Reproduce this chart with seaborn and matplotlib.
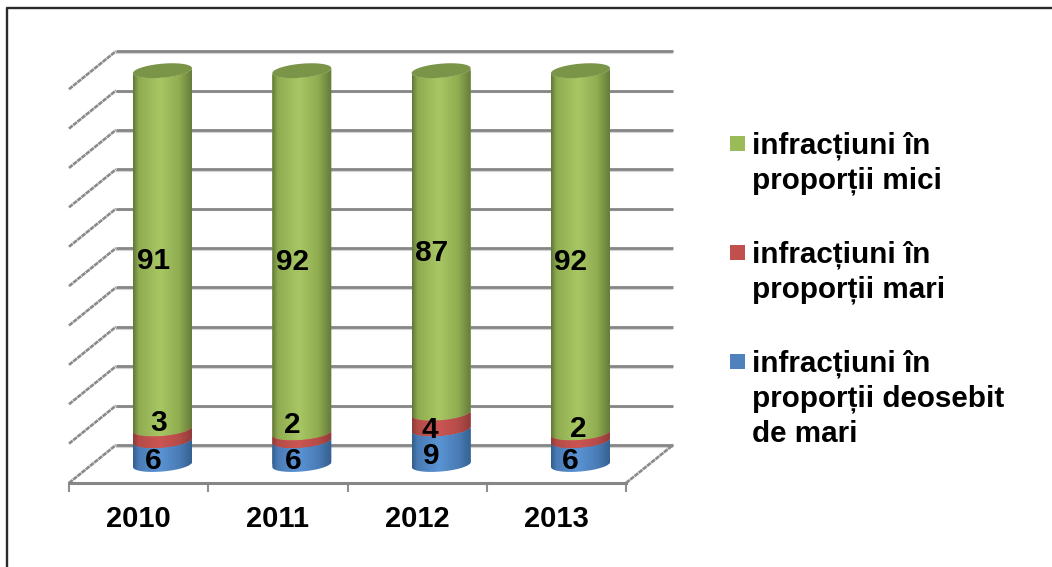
import numpy as np
import pandas as pd
import seaborn as sns
import matplotlib
matplotlib.use("Agg")
import matplotlib.pyplot as plt
from matplotlib.colors import LinearSegmentedColormap
from matplotlib.lines import Line2D
from matplotlib.patches import Rectangle
from matplotlib.path import Path

years = ["2010", "2011", "2012", "2013"]
mici = [91, 92, 87, 92]
mari = [3, 2, 4, 2]
deosebit = [6, 6, 9, 6]
legend_labels = ["infracțiuni în\nproporții mici",
                 "infracțiuni în\nproporții mari",
                 "infracțiuni în\nproporții deosebit\nde mari"]

W, H = 1052, 567
sns.set_theme(style="white")
plt.rcParams["font.family"] = ["Liberation Sans", "DejaVu Sans"]
plt.rcParams["font.weight"] = "bold"

fig = plt.figure(figsize=(W / 100, H / 100), dpi=100, facecolor="white")
ax = fig.add_axes([69 / W, (H - 483) / H, 604 / W, 432 / H])
ax.patch.set_alpha(0)

GREY = "#868686"
PALE = "#d4d4d4"
BACK_DX, BACK_DY = 0.337, 9.65     # depth of the floor, in data units
X0, X1 = -0.671, 3.327             # front edge of the floor
Y0 = -4.7

# back wall, side and floor lines
for v in range(0, 101, 10):
    yb = Y0 + BACK_DY + v
    ax.plot([X0 + BACK_DX, X1 + BACK_DX], [yb - 0.45, yb - 0.45], color=PALE, lw=1.6, zorder=1, clip_on=False, solid_capstyle="butt")
    ax.plot([X0 + BACK_DX, X1 + BACK_DX], [yb, yb], color=GREY, lw=2.0, zorder=1.2, clip_on=False, solid_capstyle="butt")
    ax.plot([X0, X0 + BACK_DX], [Y0 + v, yb], color="#8a8a8a", lw=1.9, ls=(0, (1.8, 0.25)), zorder=1.2, clip_on=False)
ax.plot([X1, X1 + BACK_DX], [Y0, Y0 + BACK_DY], color="#8a8a8a", lw=1.9, ls=(0, (1.8, 0.25)), zorder=1.2, clip_on=False)

base_blue = np.zeros(4)
base_red = np.array(deosebit, float)
base_green = base_red + np.array(mari)
series = [
    (np.array(mici), base_green, "#9bbb59", "#63793a", "#8fac50", "#a8c764", 3),
    (np.array(mari), base_red, "#c0504d", "#8f3b39", "#b54c49", "#cb5552", 4),
    (np.array(deosebit), base_blue, "#4f81bd", "#34608f", "#4a7cb6", "#5a93d4", 5),
]

A = 0.2118   # half width of cylinder, data units
ELL_B, ELL_S = 1.78, 0.63
t = np.linspace(0, np.pi, 60)

def front_arc(cx, v):
    xs = cx + A * np.cos(t)
    ys = v - ELL_B * np.sin(t) + ELL_S * np.cos(t)
    return np.column_stack([xs, ys])

for vals, base, col, edge, mid, light, z in series:
    top = base + vals
    df = pd.DataFrame({"an": years, "val": top})
    n0 = len(ax.patches)
    sns.barplot(data=df, x="an", y="val", order=years, color=col, saturation=1,
                width=2 * A, errorbar=None, ax=ax, zorder=z)
    cmap = LinearSegmentedColormap.from_list("c", [(0, edge), (0.09, mid), (0.45, light), (0.78, mid), (1, edge)])
    for i, bar in enumerate(ax.patches[n0:]):
        cx = bar.get_x() + bar.get_width() / 2
        up = front_arc(cx, top[i])          # right -> left
        lo = front_arc(cx, base[i])[::-1]   # left -> right
        path = Path(np.vstack([up, lo, up[:1]]), closed=True)
        bar.set_clip_path(path, ax.transData)
        bar.set_edgecolor("none")
        im = ax.imshow(np.linspace(0, 1, 64)[None, :], cmap=cmap, aspect="auto", interpolation="bilinear",
                       extent=[cx - A, cx + A, base[i] - 3, top[i] + 3], zorder=z + 0.1)
        im.set_clip_path(path, ax.transData)
        if z == 3:
            tt = np.linspace(0, 2 * np.pi, 120)
            ax.fill(cx + A * np.cos(tt), top[i] + ELL_B * np.sin(tt) + ELL_S * np.cos(tt),
                    color="#7a9448", zorder=3.5, lw=0)

# data labels, placed as in the reference
label_off = {
    "mici": [(-9, -11), (-9, -10), (-10, -11), (-10, -10)],
    "mari": [(-4, 12), (-10, 12), (-11, -9), (-2, 8)],
    "deos": [(-9, -8), (-9, -8), (-10, -9), (-10, -8)],
}
for key, vals, base in [("mici", mici, base_green), ("mari", mari, base_red), ("deos", deosebit, base_blue)]:
    for i, v in enumerate(vals):
        ax.annotate(str(v), xy=(i, base[i] + v / 2), xytext=label_off[key][i], textcoords="offset pixels",
                    ha="center", va="center", fontsize=21.5, fontweight="bold", color="black",
                    zorder=10, annotation_clip=False)

# axis
ax.set_xlim(X0, X1 + BACK_DX)
ax.set_ylim(Y0, Y0 + BACK_DY + 100.05)
ax.set_xlabel("")
ax.set_ylabel("")
ax.set_yticks([])
for s in ["top", "left", "right"]:
    ax.spines[s].set_visible(False)
ax.spines["bottom"].set_visible(True)
ax.spines["bottom"].set_bounds(X0, X1)
ax.spines["bottom"].set_color(GREY)
ax.spines["bottom"].set_linewidth(2.2)
ax.set_xticks([X0 + i * (X1 - X0) / 4 for i in range(5)])
ax.set_xticklabels([])
ax.set_xticks([X0 + (i + 0.5) * (X1 - X0) / 4 for i in range(4)], minor=True)
ax.set_xticklabels(years, minor=True, fontsize=21, fontweight="bold", color="black")
ax.tick_params(axis="x", which="major", length=6.5, width=1.5, color="#8f8f8f", bottom=True)
ax.tick_params(axis="x", which="minor", length=0, pad=16, bottom=True)

# legend
leg_cols = ["#9bbb59", "#c0504d", "#4f81bd"]
leg_sq = [136, 245, 354]
for lab, c, py in zip(legend_labels, leg_cols, leg_sq):
    fig.add_artist(Rectangle((730 / W, 1 - (py + 15) / H), 15 / W, 15 / H, transform=fig.transFigure, fc=c, ec="none"))
    fig.text(752 / W, 1 - (py - 4.5) / H, lab, fontsize=21.3, fontweight="bold", color="black",
             va="top", ha="left", linespacing=1.3)

# outer frame
fig.add_artist(Line2D([7 / W, 7 / W, 1], [0, 1 - 8 / H, 1 - 8 / H], transform=fig.transFigure, color="#2b2b2b", lw=1.7))

fig.savefig("out.png", dpi=100, facecolor="white")
